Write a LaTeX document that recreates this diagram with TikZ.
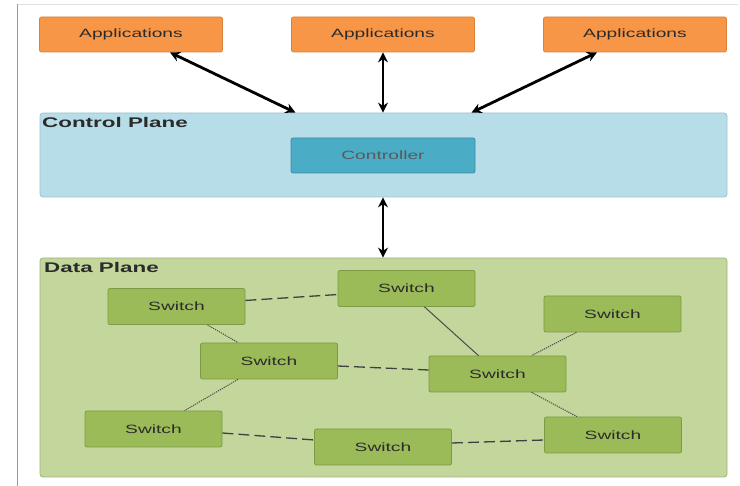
\documentclass[tikz,border=0pt]{standalone}
\usepackage{fontspec}
\newfontfamily\diagfont[FakeStretch=1.6]{Liberation Sans}
\usetikzlibrary{arrows.meta}
\definecolor{apporange}{HTML}{F79646}
\definecolor{appedge}{HTML}{D9823C}
\definecolor{cpblue}{HTML}{B7DDE8}
\definecolor{cpedge}{HTML}{9CC3CF}
\definecolor{ctrlblue}{HTML}{4BACC6}
\definecolor{ctrledge}{HTML}{3A8FA6}
\definecolor{dpgreen}{HTML}{C3D69B}
\definecolor{dpedge}{HTML}{9FB27A}
\definecolor{swgreen}{HTML}{9BBB59}
\definecolor{swedge}{HTML}{7E9A45}
\definecolor{txt}{HTML}{2B2B2B}
\tikzset{
  box/.style={draw, line width=0.8pt, rounded corners=2pt, inner sep=0pt,
    font=\diagfont\fontsize{12}{14}\selectfont, text=txt},
  app/.style={box, fill=apporange, draw=appedge, minimum width=183pt, minimum height=35pt},
  plane/.style={draw, line width=0.8pt, rounded corners=3pt, inner sep=0pt},
  ctrl/.style={box, fill=ctrlblue, draw=ctrledge, minimum width=184pt, minimum height=35pt, text=black!65},
  sw/.style={box, fill=swgreen, draw=swedge, minimum width=137pt, minimum height=36pt},
  biarrow/.style={line width=2.8pt, {Stealth[length=10pt,width=10pt]}-{Stealth[length=10pt,width=10pt]}},
  planelabel/.style={font=\diagfont\bfseries\fontsize{14}{16}\selectfont, text=txt, anchor=north west, inner sep=0pt},
  longdash/.style={line width=1.3pt, draw=black!75, dash pattern=on 11pt off 5pt},
  fine/.style={line width=1pt, draw=black!70, dash pattern=on 1.2pt off 1pt},
  plain/.style={line width=1pt, draw=black!70}
}
\begin{document}
\begin{tikzpicture}[x=1pt,y=-1pt]
\useasboundingbox (0,0) rectangle (740,486);
\draw[black!12, line width=0.8pt] (17,4) -- (738,4);
\draw[black!40, line width=1pt] (17,4) -- (17,486);

% Applications
\node[app] (a1) at (131,34.5) {Applications};
\node[app] (a2) at (383,34.5) {Applications};
\node[app] (a3) at (635,34.5) {Applications};

% Control plane
\node[plane, fill=cpblue, draw=cpedge, minimum width=687pt, minimum height=84pt] (cp) at (383.5,155) {};
\node[planelabel] (cpl) at (42,117) {Control Plane};
\node[ctrl] (ctrl) at (383,155.5) {Controller};

% Data plane
\node[plane, fill=dpgreen, draw=dpedge, minimum width=687pt, minimum height=219pt] (dp) at (383.5,367.5) {};
\node[planelabel] (dpl) at (44,262) {Data Plane};

% Switches
\node[sw] (s1) at (176.5,306.5) {Switch};
\node[sw] (s2) at (406.5,288.5) {Switch};
\node[sw] (s3) at (612.5,314) {Switch};
\node[sw] (s4) at (269,361) {Switch};
\node[sw] (s5) at (497.5,374) {Switch};
\node[sw] (s6) at (153.5,429) {Switch};
\node[sw] (s7) at (383,447) {Switch};
\node[sw] (s8) at (613,435) {Switch};

% Arrows
\draw[biarrow] ([xshift=39pt]a1.south) -- ([xshift=-88pt]cp.north);
\draw[biarrow] (a2.south) -- (cp.north -| a2.south);
\draw[biarrow] ([xshift=-38pt]a3.south) -- ([xshift=88pt]cp.north);
\draw[biarrow] (cp.south -| ctrl.south) -- (dp.north -| ctrl.south);

% Links
\draw[longdash] (s1.5) -- (s2.-175);
\draw[fine] ([xshift=31pt]s1.south) -- ([xshift=-31pt]s4.north);
\draw[plain] ([xshift=18pt]s2.south) -- ([xshift=-19pt]s5.north);
\draw[fine] ([xshift=-36pt]s3.south) -- ([xshift=34pt]s5.north);
\draw[longdash] ([yshift=-5pt]s4.east) -- ([yshift=4pt]s5.west);
\draw[fine] ([xshift=-31pt]s4.south) -- ([xshift=31pt]s6.north);
\draw[fine] ([xshift=34pt]s5.south) -- ([xshift=-36pt]s8.north);
\draw[longdash] ([yshift=-4pt]s6.east) -- ([yshift=7pt]s7.west);
\draw[longdash] ([yshift=4pt]s7.east) -- ([yshift=-5pt]s8.west);
\end{tikzpicture}
\end{document}
